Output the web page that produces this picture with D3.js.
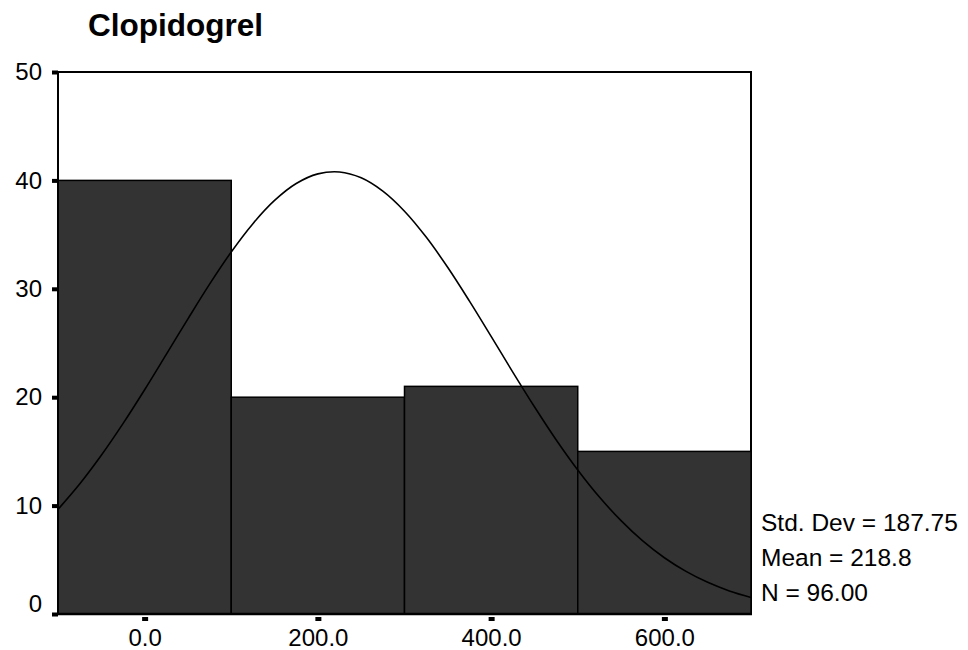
<!DOCTYPE html>
<html><head><meta charset="utf-8">
<script src="https://cdn.jsdelivr.net/npm/d3@7"></script>
<style>body{margin:0;background:#fff}svg{display:block}text{font-family:"Liberation Sans",Arial,sans-serif}</style>
</head><body>
<svg id="chart" width="968" height="650"></svg>
<script>
const title = "Clopidogrel";
const binStarts = [-100, 100, 300, 500];
const binEnds = [100, 300, 500, 700];
const counts = [40, 20, 21, 15];
const xTicks = [0, 200, 400, 600];
const xTickLabels = ["0.0", "200.0", "400.0", "600.0"];
const yTicks = [0, 10, 20, 30, 40, 50];
const yTickLabels = ["0", "10", "20", "30", "40", "50"];
const curveX = [-100,-75,-50,-25,0,25,50,75,100,125,150,175,200,225,250,275,300,325,350,375,400,425,450,475,500,525,550,575,600,625,650,675,700];
const curveY = [9.65,11.99,14.64,17.56,20.69,23.95,27.23,30.43,33.40,36.01,38.15,39.71,40.60,40.78,40.24,39.01,37.16,34.77,31.96,28.86,25.61,22.32,19.12,16.08,13.29,10.79,8.61,6.74,5.19,3.93,2.92,2.13,1.53];
const statsLines = ["Std. Dev = 187.75", "Mean = 218.8", "N = 96.00"];

const svg = d3.select("#chart");
const L = 58, R = 751, T = 72, B = 614;
const x = d3.scaleLinear().domain([-100, 700]).range([L, R]);
const y = d3.scaleLinear().domain([0, 50]).range([B, T]);

// title
svg.append("text").attr("x", 88).attr("y", 36).attr("font-size", 31).attr("font-weight", "bold")
  .attr("textLength", 175).attr("lengthAdjust", "spacingAndGlyphs").text(title);

// frame
svg.append("rect").attr("x", L).attr("y", T).attr("width", R - L).attr("height", B - T)
  .attr("fill", "#fff").attr("stroke", "#000").attr("stroke-width", 2);

// bars
svg.append("g").selectAll("rect").data(counts).join("rect")
  .attr("x", (d, i) => x(binStarts[i]))
  .attr("width", (d, i) => x(binEnds[i]) - x(binStarts[i]))
  .attr("y", d => y(d))
  .attr("height", d => y(0) - y(d))
  .attr("fill", "#333333").attr("stroke", "#000").attr("stroke-width", 1.5);

// redraw axis lines on top
svg.append("line").attr("x1", L).attr("x2", L).attr("y1", T).attr("y2", B + 1).attr("stroke", "#000").attr("stroke-width", 2);
svg.append("line").attr("x1", L - 1).attr("x2", R + 1).attr("y1", B).attr("y2", B).attr("stroke", "#000").attr("stroke-width", 2.5);

// normal curve
const pts = curveX.map((v, i) => [v, curveY[i]]);
svg.append("path").datum(pts)
  .attr("d", d3.line().x(d => x(d[0])).y(d => y(d[1])).curve(d3.curveCatmullRom))
  .attr("fill", "none").attr("stroke", "#000").attr("stroke-width", 1.6);

// y axis ticks
const yAxis = d3.axisLeft(y).tickValues(yTicks).tickSize(0).tickPadding(16)
  .tickFormat((d, i) => yTickLabels[i]);
const gy = svg.append("g").attr("transform", `translate(${L},0)`).call(yAxis);
gy.select(".domain").remove();
gy.attr("font-size", 24);
gy.selectAll("text").attr("font-size", 24).attr("fill", "#000").attr("font-family", "Liberation Sans, Arial, sans-serif")
  .attr("y", d => d === 0 ? -10 : 0);
gy.selectAll(".tick").append("rect").attr("x", -6).attr("y", -2).attr("width", 6).attr("height", 4).attr("fill", "#000");

// x axis ticks
const xAxis = d3.axisBottom(x).tickValues(xTicks).tickSize(0).tickPadding(15)
  .tickFormat((d, i) => xTickLabels[i]);
const gx = svg.append("g").attr("transform", `translate(0,${B})`).call(xAxis);
gx.select(".domain").remove();
gx.attr("font-size", 24);
gx.selectAll("text").attr("font-size", 24).attr("fill", "#000").attr("font-family", "Liberation Sans, Arial, sans-serif");
gx.selectAll(".tick").append("rect").attr("x", -3).attr("y", 3).attr("width", 6).attr("height", 4).attr("fill", "#000");

// stats
svg.append("g").selectAll("text").data(statsLines).join("text")
  .attr("x", 761).attr("y", (d, i) => 531 + i * 35)
  .attr("font-size", 24.5).attr("fill", "#000").text(d => d);
</script>
</body></html>
